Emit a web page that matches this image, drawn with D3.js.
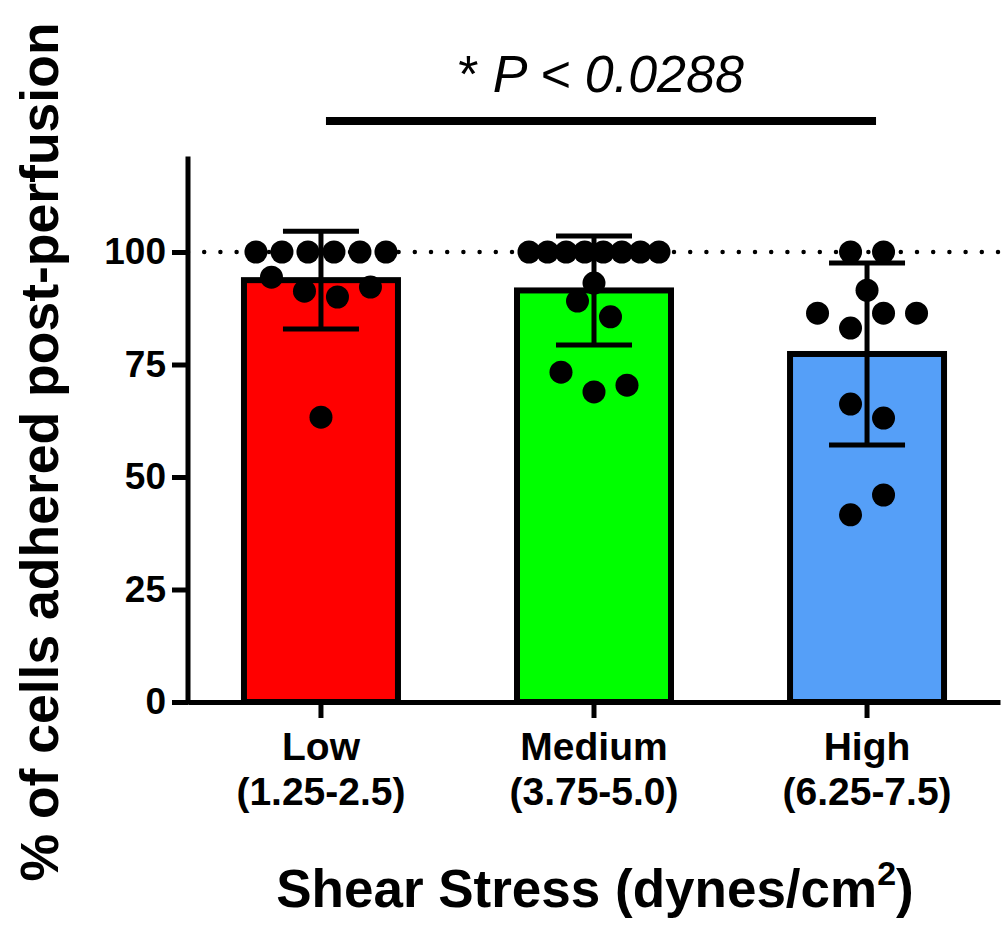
<!DOCTYPE html>
<html>
<head>
<meta charset="utf-8">
<script src="https://cdn.jsdelivr.net/npm/d3@7"></script>
<style>
  html, body { margin: 0; padding: 0; background: #fff; }
  svg { display: block; font-family: "Liberation Sans", Arial, Helvetica, sans-serif; }
</style>
</head>
<body>
<svg id="chart" width="1005" height="930"></svg>
<script>
// ---- data ----
const categories = ["Low", "Medium", "High"];
const categoryRanges = ["(1.25-2.5)", "(3.75-5.0)", "(6.25-7.5)"];
const lowValues = [100, 100, 100, 100, 100, 100, 94.4, 91.3, 90.0, 92.2, 63.3];
const mediumValues = [100, 100, 100, 100, 100, 100, 100, 100, 93.1, 89.1, 85.6, 73.3, 68.9, 70.4];
const highValues = [100, 100, 91.5, 86.4, 83.1, 86.4, 86.4, 66.2, 63.1, 41.6, 46.0];
const barColors = ["#ff0000", "#00ff00", "#559ff8"];
const yTicks = [0, 25, 50, 75, 100];
const yMax = 120;
const referenceLine = 100;
const pText = "P < 0.0288";
const comparison = ["Low", "High"];
const yTitle = "% of cells adhered post-perfusion";

const groups = [lowValues, mediumValues, highValues];

// ---- layout ----
const svg = d3.select("#chart");
const left = 188, right = 1000, bottom = 702;
const y = d3.scaleLinear().domain([0, yMax]).range([bottom, bottom - 4.5 * yMax]);
const x = d3.scaleBand().domain(categories).range([left, right])
  .paddingInner(0.414).paddingOuter(0.194);

const stats = groups.map((vals, i) => {
  const m = d3.mean(vals), sd = d3.deviation(vals);
  return { cat: categories[i], mean: m, sd: sd, vals: vals, color: barColors[i] };
});

// dotted reference line at 100
svg.append("line")
  .attr("x1", left).attr("x2", right)
  .attr("y1", y(referenceLine)).attr("y2", y(referenceLine))
  .attr("stroke", "#000").attr("stroke-width", 4.5)
  .attr("stroke-linecap", "round").attr("stroke-dasharray", "0 16.2");

// bars
const bw = x.bandwidth();
svg.append("g").selectAll("rect").data(stats).join("rect")
  .attr("x", d => x(d.cat) + 3)
  .attr("width", bw - 6)
  .attr("y", d => y(d.mean))
  .attr("height", d => y(0) - y(d.mean))
  .attr("fill", d => d.color)
  .attr("stroke", "#000").attr("stroke-width", 6);

// scatter points (row-binned layout, points in data order left to right)
const binWidth = 7, binOffset = 5.5, maxSpan = 130, maxStep = 33, r = 11.5;
stats.forEach(s => {
  const cx = x(s.cat) + bw / 2;
  const bins = d3.group(s.vals.map((v, i) => ({ v, i })), d => Math.floor((d.v - binOffset) / binWidth));
  const pts = [];
  bins.forEach(list => {
    const n = list.length;
    const step = n > 1 ? Math.min(maxStep, maxSpan / (n - 1)) : 0;
    list.forEach((p, k) => pts.push({ v: p.v, dx: (k - (n - 1) / 2) * step }));
  });
  svg.append("g").selectAll("circle").data(pts).join("circle")
    .attr("cx", d => cx + d.dx)
    .attr("cy", d => y(d.v))
    .attr("r", r)
    .attr("fill", "#000");
});

// error bars (mean ± SD)
const capW = 76;
const eb = svg.append("g").attr("stroke", "#000").attr("stroke-width", 5);
stats.forEach(s => {
  const cx = x(s.cat) + bw / 2;
  eb.append("line").attr("x1", cx).attr("x2", cx)
    .attr("y1", y(s.mean + s.sd)).attr("y2", y(s.mean - s.sd));
  eb.append("line").attr("x1", cx - capW / 2).attr("x2", cx + capW / 2)
    .attr("y1", y(s.mean + s.sd)).attr("y2", y(s.mean + s.sd));
  eb.append("line").attr("x1", cx - capW / 2).attr("x2", cx + capW / 2)
    .attr("y1", y(s.mean - s.sd)).attr("y2", y(s.mean - s.sd));
});

// y axis
const yAxis = svg.append("g").attr("transform", `translate(${left},0)`)
  .call(d3.axisLeft(y).tickValues(yTicks).tickSize(16).tickSizeOuter(0).tickPadding(6));
yAxis.select(".domain").attr("stroke-width", 5).attr("stroke-linecap", "square")
  .attr("d", `M0,${y(0)}V${y(yMax) - 3}`);
yAxis.selectAll(".tick line").attr("stroke-width", 5);
yAxis.selectAll(".tick text").attr("font-size", 37).attr("font-weight", "bold").attr("fill", "#000");

// x axis
const xAxis = svg.append("g").attr("transform", `translate(0,${bottom})`)
  .call(d3.axisBottom(x).tickSize(16).tickSizeOuter(0).tickFormat(""));
xAxis.select(".domain").attr("stroke-width", 5);
xAxis.selectAll(".tick line").attr("stroke-width", 5);
xAxis.selectAll(".tick").each(function (d, i) {
  const t = d3.select(this).append("text")
    .attr("fill", "#000").attr("font-size", 39).attr("font-weight", "bold")
    .attr("text-anchor", "middle");
  t.append("tspan").attr("x", 0).attr("y", 58).text(d);
  t.append("tspan").attr("x", 0).attr("y", 103).text(categoryRanges[i]);
});

// x axis title
const xt = svg.append("text").attr("x", 595).attr("y", 907)
  .attr("text-anchor", "middle").attr("font-size", 53).attr("font-weight", "bold");
xt.append("tspan").text("Shear Stress (dynes/cm");
xt.append("tspan").attr("font-size", 34).attr("dy", -22).text("2");
xt.append("tspan").attr("dy", 22).text(")");

// y axis title
svg.append("text")
  .attr("transform", `translate(58,452) rotate(-90)`)
  .attr("text-anchor", "middle").attr("font-size", 53.5).attr("font-weight", "bold")
  .text(yTitle);

// significance bar + label
const x1 = x(comparison[0]) + bw / 2, x2 = x(comparison[1]) + bw / 2;
svg.append("line").attr("x1", x1 + 5).attr("x2", x2 + 9)
  .attr("y1", 121).attr("y2", 121).attr("stroke", "#000").attr("stroke-width", 8);
const pt = svg.append("text").attr("x", (x1 + x2) / 2 + 7).attr("y", 92)
  .attr("text-anchor", "middle").attr("font-size", 52);
pt.append("tspan").text("* ");
pt.append("tspan").attr("font-style", "italic").text(pText);
</script>
</body>
</html>
